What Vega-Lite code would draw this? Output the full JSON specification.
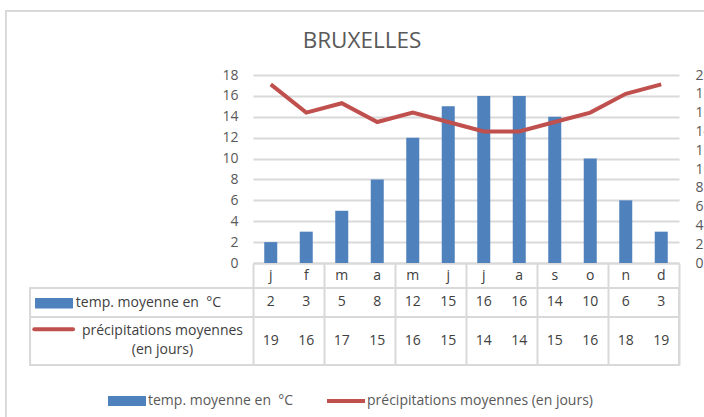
{
  "$schema": "https://vega.github.io/schema/vega-lite/v6.json",
  "autosize": {"type": "none"},
  "padding": {"left": 253, "top": 75, "right": 25, "bottom": 154},
  "width": 426,
  "height": 188,
  "background": "white",
  "config": {"view": {"stroke": null}, "font": "Open Sans"},
  "title": {"text": "BRUXELLES", "anchor": "middle", "frame": "group", "dx": -104, "dy": 61, "fontSize": 22.5, "font": "Open Sans", "fontWeight": "normal", "color": "#595959", "baseline": "alphabetic", "offset": 0},
  "data": {"values": [
    {"n": 1, "m": "j", "temp": 2, "precip": 19},
    {"n": 2, "m": "f", "temp": 3, "precip": 16},
    {"n": 3, "m": "m", "temp": 5, "precip": 17},
    {"n": 4, "m": "a", "temp": 8, "precip": 15},
    {"n": 5, "m": "m", "temp": 12, "precip": 16},
    {"n": 6, "m": "j", "temp": 15, "precip": 15},
    {"n": 7, "m": "j", "temp": 16, "precip": 14},
    {"n": 8, "m": "a", "temp": 16, "precip": 14},
    {"n": 9, "m": "s", "temp": 14, "precip": 15},
    {"n": 10, "m": "o", "temp": 10, "precip": 16},
    {"n": 11, "m": "n", "temp": 6, "precip": 18},
    {"n": 12, "m": "d", "temp": 3, "precip": 19}
  ]},
  "layer": [
    {
      "mark": {"type": "bar", "orient": "vertical", "size": 13, "color": "#4f81bd"},
      "encoding": {
        "x": {"field": "n", "type": "quantitative", "scale": {"domain": [0.5, 12.5], "nice": false, "zero": false, "padding": 0},
              "axis": {"orient": "bottom", "values": [0.5,1.5,2.5,3.5,4.5,5.5,6.5,7.5,8.5,9.5,10.5,11.5,12.5], "labels": false, "grid": false, "title": null, "ticks": true, "tickSize": 102, "tickColor": "#d9d9d9", "tickWidth": 2, "domain": true, "domainColor": "#d9d9d9", "domainWidth": 2}},
        "y": {"field": "temp", "type": "quantitative", "scale": {"domain": [0, 18], "nice": false, "padding": 0},
              "axis": {"orient": "left", "values": [0,2,4,6,8,10,12,14,16,18], "title": null, "domain": false, "ticks": false, "labelPadding": 15, "labelFont": "Open Sans", "labelFontSize": 14, "labelColor": "#595959", "labelOverlap": false, "labelFlush": false, "grid": true, "gridColor": "#d9d9d9", "gridWidth": 2}}
      }
    },
    {
      "data": {"values": [{}]},
      "mark": {"type": "rect", "filled": false, "color": "#d9d9d9", "strokeWidth": 2},
      "encoding": {
        "x": {"datum": -6.46, "type": "quantitative", "scale": {"domain": [0.5, 12.5], "nice": false, "padding": 0}},
        "x2": {"datum": 14},
        "y": {"datum": 24.13, "type": "quantitative", "scale": {"domain": [0, 18], "nice": false, "padding": 0}, "axis": null},
        "y2": {"datum": -20}
      }
    },
    {
      "mark": {"type": "text", "font": "Open Sans", "fontSize": 14, "color": "#404040", "baseline": "middle", "align": "center"},
      "encoding": {
        "x": {"field": "n", "type": "quantitative", "scale": {"domain": [0.5, 12.5], "nice": false, "zero": false, "padding": 0}},
        "y": {"datum": -1.2, "type": "quantitative", "scale": {"domain": [0, 18], "nice": false, "padding": 0}, "axis": null},
        "text": {"field": "m"}
      }
    },
    {
      "mark": {"type": "text", "font": "Open Sans", "fontSize": 14, "color": "#404040", "baseline": "middle", "align": "center"},
      "encoding": {
        "x": {"field": "n", "type": "quantitative", "scale": {"domain": [0.5, 12.5], "nice": false, "zero": false, "padding": 0}},
        "y": {"datum": -3.78, "type": "quantitative", "scale": {"domain": [0, 18], "nice": false, "padding": 0}, "axis": null},
        "text": {"field": "temp"}
      }
    },
    {
      "mark": {"type": "text", "font": "Open Sans", "fontSize": 14, "color": "#404040", "baseline": "middle", "align": "center"},
      "encoding": {
        "x": {"field": "n", "type": "quantitative", "scale": {"domain": [0.5, 12.5], "nice": false, "zero": false, "padding": 0}},
        "y": {"datum": -7.47, "type": "quantitative", "scale": {"domain": [0, 18], "nice": false, "padding": 0}, "axis": null},
        "text": {"field": "precip"}
      }
    },
    {
      "data": {"values": [{}]},
      "mark": {"type": "rect", "filled": false, "color": "#d9d9d9", "strokeWidth": 2},
      "encoding": {
        "x": {"datum": -5.78, "type": "quantitative", "scale": {"domain": [0.5, 12.5], "nice": false, "padding": 0}},
        "x2": {"datum": 12.5},
        "y": {"datum": -2.39, "type": "quantitative", "scale": {"domain": [0, 18], "nice": false, "padding": 0}, "axis": null},
        "y2": {"datum": -9.77}
      }
    },
    {
      "data": {"values": [{}]},
      "mark": {"type": "rule", "color": "#d9d9d9", "strokeWidth": 2},
      "encoding": {
        "x": {"datum": -5.78, "type": "quantitative", "scale": {"domain": [0.5, 12.5], "nice": false, "padding": 0}},
        "x2": {"datum": 12.5},
        "y": {"datum": -5.17, "type": "quantitative", "scale": {"domain": [0, 18], "nice": false, "padding": 0}, "axis": null}
      }
    },
    {
      "data": {"values": [{}]},
      "mark": {"type": "rect", "color": "#4f81bd"},
      "encoding": {
        "x": {"datum": -5.64, "type": "quantitative", "scale": {"domain": [0.5, 12.5], "nice": false, "padding": 0}},
        "x2": {"datum": -4.57},
        "y": {"datum": -3.35, "type": "quantitative", "scale": {"domain": [0, 18], "nice": false, "padding": 0}, "axis": null},
        "y2": {"datum": -4.35}
      }
    },
    {
      "data": {"values": [{}]},
      "mark": {"type": "rule", "color": "#c0504d", "strokeWidth": 4, "strokeCap": "round"},
      "encoding": {
        "x": {"datum": -5.66, "type": "quantitative", "scale": {"domain": [0.5, 12.5], "nice": false, "padding": 0}},
        "x2": {"datum": -4.57},
        "y": {"datum": -6.35, "type": "quantitative", "scale": {"domain": [0, 18], "nice": false, "padding": 0}, "axis": null}
      }
    },
    {
      "data": {"values": [{}]},
      "mark": {"type": "text", "font": "Open Sans", "fontSize": 14, "color": "#404040", "baseline": "middle", "align": "left"},
      "encoding": {
        "x": {"datum": -4.49, "type": "quantitative", "scale": {"domain": [0.5, 12.5], "nice": false, "padding": 0}},
        "y": {"datum": -3.8, "type": "quantitative", "scale": {"domain": [0, 18], "nice": false, "padding": 0}, "axis": null},
        "text": {"datum": "temp. moyenne en\u00a0 °C"}
      }
    },
    {
      "data": {"values": [{}]},
      "mark": {"type": "text", "font": "Open Sans", "fontSize": 14, "color": "#404040", "baseline": "middle", "align": "center", "lineBreak": "\n", "lineHeight": 19},
      "encoding": {
        "x": {"datum": -2.05, "type": "quantitative", "scale": {"domain": [0.5, 12.5], "nice": false, "padding": 0}},
        "y": {"datum": -6.55, "type": "quantitative", "scale": {"domain": [0, 18], "nice": false, "padding": 0}, "axis": null},
        "text": {"datum": "précipitations moyennes\n(en jours)"}
      }
    },
    {
      "mark": {"type": "line", "color": "#c0504d", "strokeWidth": 4},
      "encoding": {
        "x": {"field": "n", "type": "quantitative", "scale": {"domain": [0.5, 12.5], "nice": false, "zero": false, "padding": 0}},
        "y": {"field": "precip", "type": "quantitative", "scale": {"domain": [0, 20], "nice": false, "padding": 0},
              "axis": {"orient": "right", "values": [0,2,4,6,8,10,12,14,16,18,20], "title": null, "domain": false, "ticks": false, "grid": false, "labelPadding": 16, "labelFont": "Open Sans", "labelFontSize": 14, "labelColor": "#595959", "labelOverlap": false, "labelFlush": false}}
      }
    },
    {
      "data": {"values": [{"series": "temp. moyenne en\u00a0 °C"}, {"series": "précipitations moyennes (en jours)"}]},
      "mark": {"type": "point", "filled": true, "opacity": 0},
      "encoding": {
        "color": {"field": "series", "type": "nominal",
                  "scale": {"domain": ["temp. moyenne en\u00a0 °C", "précipitations moyennes (en jours)"], "range": ["#4f81bd", "#c0504d"]},
                  "legend": {"orient": "none", "legendX": -145, "legendY": 307, "direction": "horizontal", "columns": 2, "title": null, "symbolSize": 1444, "symbolOpacity": 1, "symbolStrokeWidth": 0, "labelFont": "Open Sans", "labelFontSize": 14, "labelColor": "#595959", "labelOffset": 2, "labelLimit": 400, "columnPadding": 33, "padding": 0,
                             "encode": {"symbols": {"update": {"opacity": {"value": 1}, "fillOpacity": {"value": 1}}}}}},
        "shape": {"field": "series", "type": "nominal",
                  "scale": {"domain": ["temp. moyenne en\u00a0 °C", "précipitations moyennes (en jours)"], "range": ["M-1,-0.26V0.26H1V-0.26Z", "M-1,-0.1V0.1H1V-0.1Z"]}}
      }
    }
  ],
  "resolve": {"scale": {"y": "independent"}}
}
